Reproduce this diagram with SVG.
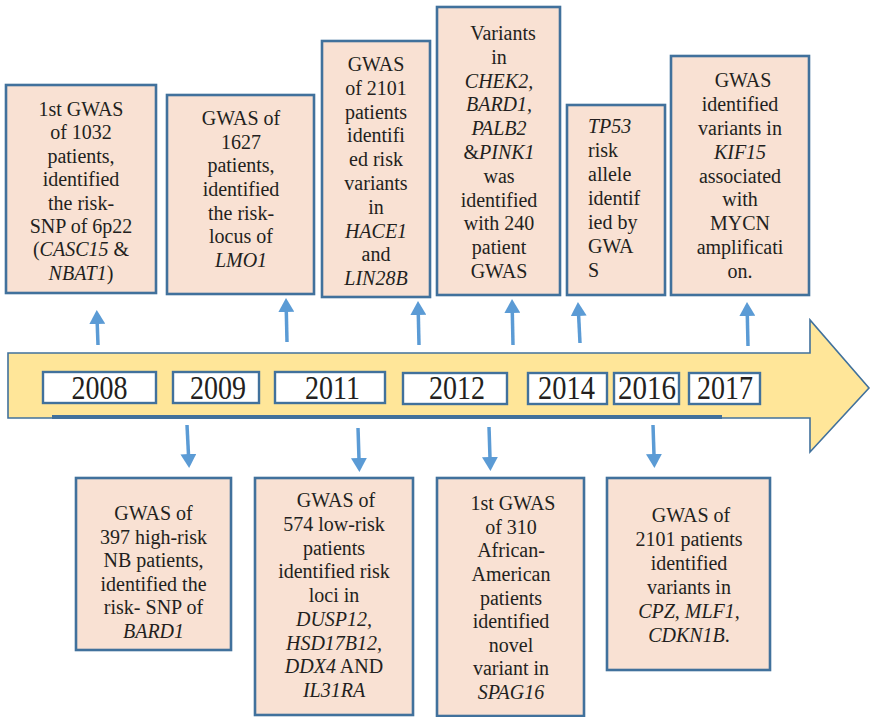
<svg xmlns="http://www.w3.org/2000/svg" width="871" height="717" viewBox="0 0 871 717">
<style>
.box{fill:#F9E1D3;stroke:#41719C;stroke-width:2.6}
.yr{fill:#FFFFFF;stroke:#41719C;stroke-width:2.4}
.t{font-size:20px;fill:#231F20;text-anchor:middle}
.l{text-anchor:start}
.y{font-size:33px;fill:#231F20;text-anchor:middle}
.i{font-style:italic}
.ar{stroke:#5B9BD5;stroke-width:3.5;fill:none;marker-end:url(#ah)}
</style>
<defs>
<marker id="ah" markerUnits="userSpaceOnUse" viewBox="0 0 14 16" markerWidth="14" markerHeight="16" refX="1" refY="8" orient="auto">
<path d="M0,0 L14,8 L0,16 z" fill="#5B9BD5"/>
</marker>
</defs>
<rect width="871" height="717" fill="#FFFFFF"/>

<g id="timeline">
<path d="M8,353 L810,353 L810,320 L869,388 L810,452 L810,418 L8,418 Z" fill="#FFE699" stroke="#41719C" stroke-width="1.6"/>
<line x1="52" y1="417" x2="722" y2="417" stroke="#41719C" stroke-width="3.8"/>
</g>

<g id="years">
<g id="y2008"><rect class="yr" x="43" y="372" width="113" height="31"/><text font-family="Liberation Serif" class="y" x="99.5" y="399" textLength="56" lengthAdjust="spacingAndGlyphs">2008</text></g>
<g id="y2009"><rect class="yr" x="173" y="372" width="86" height="31"/><text font-family="Liberation Serif" class="y" x="218" y="399" textLength="56" lengthAdjust="spacingAndGlyphs">2009</text></g>
<g id="y2011"><rect class="yr" x="275" y="372" width="110" height="31"/><text font-family="Liberation Serif" class="y" x="332.5" y="399" textLength="55" lengthAdjust="spacingAndGlyphs">2011</text></g>
<g id="y2012"><rect class="yr" x="403" y="373" width="104" height="31"/><text font-family="Liberation Serif" class="y" x="457" y="399" textLength="56" lengthAdjust="spacingAndGlyphs">2012</text></g>
<g id="y2014"><rect class="yr" x="528" y="373" width="79" height="31"/><text font-family="Liberation Serif" class="y" x="566.5" y="399" textLength="57" lengthAdjust="spacingAndGlyphs">2014</text></g>
<g id="y2016"><rect class="yr" x="614" y="373" width="65" height="31"/><text font-family="Liberation Serif" class="y" x="647" y="399" textLength="58" lengthAdjust="spacingAndGlyphs">2016</text></g>
<g id="y2017"><rect class="yr" x="689" y="373" width="71" height="31"/><text font-family="Liberation Serif" class="y" x="725" y="399" textLength="56" lengthAdjust="spacingAndGlyphs">2017</text></g>
</g>

<g id="connectors">
<line class="ar" x1="98" y1="345" x2="97.2" y2="323"/>
<line class="ar" x1="287" y1="342" x2="286.3" y2="311"/>
<line class="ar" x1="419" y1="345" x2="418.3" y2="314"/>
<line class="ar" x1="513" y1="345" x2="512.3" y2="312"/>
<line class="ar" x1="580" y1="343" x2="578.6" y2="315"/>
<line class="ar" x1="748" y1="346" x2="747.3" y2="315"/>
<line class="ar" x1="187" y1="425" x2="188.5" y2="455"/>
<line class="ar" x1="358" y1="428" x2="359" y2="459"/>
<line class="ar" x1="489" y1="427" x2="490" y2="458"/>
<line class="ar" x1="653" y1="425" x2="654" y2="455"/>
</g>

<g id="n2008top">
<rect class="box" x="6" y="85" width="150" height="208"/>
<text font-family="Liberation Serif" class="t" x="81" y="116">1st GWAS</text>
<text font-family="Liberation Serif" class="t" x="81" y="139.4">of 1032</text>
<text font-family="Liberation Serif" class="t" x="81" y="162.8">patients,</text>
<text font-family="Liberation Serif" class="t" x="81" y="186.2">identified</text>
<text font-family="Liberation Serif" class="t" x="81" y="209.6">the risk-</text>
<text font-family="Liberation Serif" class="t" x="81" y="233">SNP of 6p22</text>
<text font-family="Liberation Serif" class="t" x="81" y="256.4">(<tspan class="i">CASC15</tspan> &amp;</text>
<text font-family="Liberation Serif" class="t" x="81" y="279.8"><tspan class="i">NBAT1</tspan>)</text>
</g>

<g id="n2009top">
<rect class="box" x="167" y="95" width="147" height="199"/>
<text font-family="Liberation Serif" class="t" x="241" y="125">GWAS of</text>
<text font-family="Liberation Serif" class="t" x="241" y="148.7">1627</text>
<text font-family="Liberation Serif" class="t" x="241" y="172.3">patients,</text>
<text font-family="Liberation Serif" class="t" x="241" y="196">identified</text>
<text font-family="Liberation Serif" class="t" x="241" y="219.7">the risk-</text>
<text font-family="Liberation Serif" class="t" x="241" y="243.3">locus of</text>
<text font-family="Liberation Serif" class="t i" x="241" y="267">LMO1</text>
</g>

<g id="n2011top">
<rect class="box" x="322" y="41" width="108" height="256"/>
<text font-family="Liberation Serif" class="t" x="376" y="71">GWAS</text>
<text font-family="Liberation Serif" class="t" x="376" y="94.8">of 2101</text>
<text font-family="Liberation Serif" class="t" x="376" y="118.6">patients</text>
<text font-family="Liberation Serif" class="t" x="376" y="142.4">identifi</text>
<text font-family="Liberation Serif" class="t" x="376" y="166.2">ed risk</text>
<text font-family="Liberation Serif" class="t" x="376" y="190">variants</text>
<text font-family="Liberation Serif" class="t" x="376" y="213.8">in</text>
<text font-family="Liberation Serif" class="t i" x="376" y="237.6">HACE1</text>
<text font-family="Liberation Serif" class="t" x="376" y="261.4">and</text>
<text font-family="Liberation Serif" class="t i" x="376" y="285">LIN28B</text>
</g>

<g id="n2012top">
<rect class="box" x="437" y="7" width="123" height="288"/>
<text font-family="Liberation Serif" class="t" x="503" y="40">Variants</text>
<text font-family="Liberation Serif" class="t" x="499" y="63.8">in</text>
<text font-family="Liberation Serif" class="t i" x="499" y="87.6">CHEK2,</text>
<text font-family="Liberation Serif" class="t i" x="499" y="111.4">BARD1,</text>
<text font-family="Liberation Serif" class="t i" x="499" y="135.2">PALB2</text>
<text font-family="Liberation Serif" class="t" x="499" y="159">&amp;<tspan class="i">PINK1</tspan></text>
<text font-family="Liberation Serif" class="t" x="499" y="182.8">was</text>
<text font-family="Liberation Serif" class="t" x="499" y="206.6">identified</text>
<text font-family="Liberation Serif" class="t" x="499" y="230.4">with 240</text>
<text font-family="Liberation Serif" class="t" x="499" y="254.2">patient</text>
<text font-family="Liberation Serif" class="t" x="499" y="278">GWAS</text>
</g>

<g id="n2014top">
<rect class="box" x="567" y="105" width="98" height="190"/>
<text font-family="Liberation Serif" class="t l i" x="588" y="133">TP53</text>
<text font-family="Liberation Serif" class="t l" x="588" y="157">risk</text>
<text font-family="Liberation Serif" class="t l" x="588" y="181">allele</text>
<text font-family="Liberation Serif" class="t l" x="588" y="205">identif</text>
<text font-family="Liberation Serif" class="t l" x="588" y="229">ied by</text>
<text font-family="Liberation Serif" class="t l" x="588" y="253">GWA</text>
<text font-family="Liberation Serif" class="t l" x="588" y="277">S</text>
</g>

<g id="n2017top">
<rect class="box" x="671" y="56" width="138" height="239"/>
<text font-family="Liberation Serif" class="t" x="743" y="87">GWAS</text>
<text font-family="Liberation Serif" class="t" x="740" y="110.9">identified</text>
<text font-family="Liberation Serif" class="t" x="740" y="134.8">variants in</text>
<text font-family="Liberation Serif" class="t i" x="740" y="158.6">KIF15</text>
<text font-family="Liberation Serif" class="t" x="740" y="182.5">associated</text>
<text font-family="Liberation Serif" class="t" x="740" y="206.4">with</text>
<text font-family="Liberation Serif" class="t" x="740" y="230.3">MYCN</text>
<text font-family="Liberation Serif" class="t" x="740" y="254.1">amplificati</text>
<text font-family="Liberation Serif" class="t" x="740" y="278">on.</text>
</g>

<g id="n2009bottom">
<rect class="box" x="76" y="478" width="155" height="172"/>
<text font-family="Liberation Serif" class="t" x="153.5" y="520">GWAS of</text>
<text font-family="Liberation Serif" class="t" x="153.5" y="543.6">397 high-risk</text>
<text font-family="Liberation Serif" class="t" x="153.5" y="567.2">NB patients,</text>
<text font-family="Liberation Serif" class="t" x="153.5" y="590.8">identified the</text>
<text font-family="Liberation Serif" class="t" x="153.5" y="614.4">risk- SNP of</text>
<text font-family="Liberation Serif" class="t i" x="153.5" y="638">BARD1</text>
</g>

<g id="n2011bottom">
<rect class="box" x="255" y="478" width="158" height="237"/>
<text font-family="Liberation Serif" class="t" x="336" y="507">GWAS of</text>
<text font-family="Liberation Serif" class="t" x="334" y="530.8">574 low-risk</text>
<text font-family="Liberation Serif" class="t" x="334" y="554.5">patients</text>
<text font-family="Liberation Serif" class="t" x="334" y="578.3">identified risk</text>
<text font-family="Liberation Serif" class="t" x="334" y="602">loci in</text>
<text font-family="Liberation Serif" class="t i" x="334" y="625.8">DUSP12,</text>
<text font-family="Liberation Serif" class="t i" x="334" y="649.5">HSD17B12,</text>
<text font-family="Liberation Serif" class="t" x="334" y="673.3"><tspan class="i">DDX4</tspan> AND</text>
<text font-family="Liberation Serif" class="t i" x="334" y="697">IL31RA</text>
</g>

<g id="n2012bottom">
<rect class="box" x="437" y="478" width="147" height="238"/>
<text font-family="Liberation Serif" class="t" x="513" y="510">1st GWAS</text>
<text font-family="Liberation Serif" class="t" x="511" y="533.6">of 310</text>
<text font-family="Liberation Serif" class="t" x="511" y="557.3">African-</text>
<text font-family="Liberation Serif" class="t" x="511" y="580.9">American</text>
<text font-family="Liberation Serif" class="t" x="511" y="604.5">patients</text>
<text font-family="Liberation Serif" class="t" x="511" y="628.1">identified</text>
<text font-family="Liberation Serif" class="t" x="511" y="651.8">novel</text>
<text font-family="Liberation Serif" class="t" x="511" y="675.4">variant in</text>
<text font-family="Liberation Serif" class="t i" x="511" y="699">SPAG16</text>
</g>

<g id="n2016bottom">
<rect class="box" x="607" y="478" width="163" height="192"/>
<text font-family="Liberation Serif" class="t" x="691" y="522">GWAS of</text>
<text font-family="Liberation Serif" class="t" x="689" y="546">2101 patients</text>
<text font-family="Liberation Serif" class="t" x="689" y="570">identified</text>
<text font-family="Liberation Serif" class="t" x="689" y="594">variants in</text>
<text font-family="Liberation Serif" class="t i" x="689" y="618">CPZ, MLF1,</text>
<text font-family="Liberation Serif" class="t" x="689" y="642"><tspan class="i">CDKN1B</tspan>.</text>
</g>
</svg>
